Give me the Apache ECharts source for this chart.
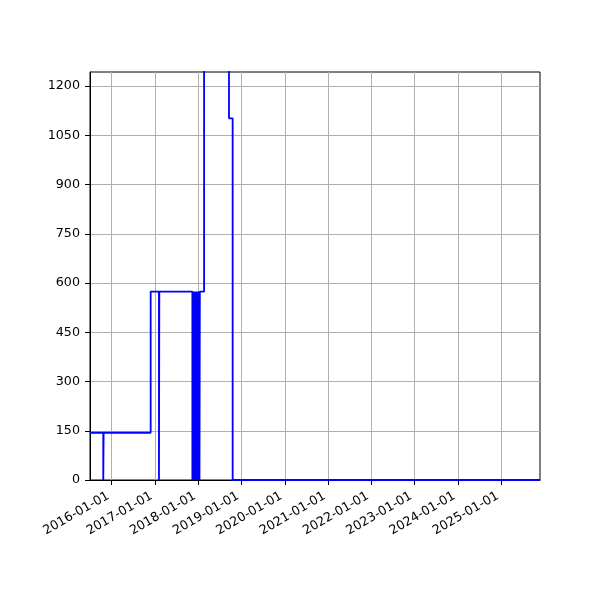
<!DOCTYPE html>
<html><head><meta charset="utf-8">
<script src="https://cdn.jsdelivr.net/npm/echarts@6/dist/echarts.min.js"></script>
<style>html,body{margin:0;padding:0;background:#fff}#c{width:600px;height:600px}</style>
</head><body><div id="c"></div>
<script>
const dates = [
  '2015-07-02','2015-10-22','2015-10-25','2016-11-25','2017-02-03','2017-02-06',
  '2017-11-12','2017-11-15','2017-11-18','2017-11-21','2017-11-24','2017-11-27',
  '2017-11-30','2017-12-03','2017-12-06','2017-12-09','2017-12-12','2017-12-15',
  '2017-12-18','2017-12-21','2017-12-24','2017-12-27','2017-12-30','2018-01-02',
  '2018-01-05','2018-01-08','2018-01-11','2018-01-14',
  '2018-02-19','2018-09-17','2018-10-18','2025-11-24'
];
const values = [
  144, 0, 144, 574, 0, 574,
  0, 574, 0, 574, 0, 574,
  0, 574, 0, 574, 0, 574,
  0, 574, 0, 574, 0, 574,
  0, 574, 0, 574,
  1400, 1102, 0, 0
];
const xTicks = ['2016-01-01','2017-01-01','2018-01-01','2019-01-01','2020-01-01',
  '2021-01-01','2022-01-01','2023-01-01','2024-01-01','2025-01-01'];
const yTicks = [0,150,300,450,600,750,900,1050,1200];
const xMin = '2015-07-02', xMax = '2025-11-24';
const yMax = 1243;

const ts = s => new Date(s + 'T00:00:00Z').getTime();
const pad = n => (n < 10 ? '0' : '') + n;
const fmt = v => { const d = new Date(v); return d.getUTCFullYear() + '-' + pad(d.getUTCMonth()+1) + '-' + pad(d.getUTCDate()); };

const chart = echarts.init(document.getElementById('c'));
const font = 'DejaVu Sans';
const fs = 12.7;
chart.setOption({
  animation: false,
  grid: {left: 90, right: 60, top: 72, bottom: 120, show: true, borderColor: '#000', borderWidth: 1, backgroundColor: 'transparent'},
  xAxis: {
    type: 'value', min: ts(xMin), max: ts(xMax),
    axisLine: {show: true, lineStyle: {color: '#000', width: 1}},
    axisTick: {show: true, length: 5, lineStyle: {color: '#000'}, customValues: xTicks.map(ts)},
    axisLabel: {rotate: 30, margin: 13, padding: [0, 4, 0, 0], color: '#000', fontFamily: font, fontSize: fs,
      customValues: xTicks.map(ts), formatter: v => fmt(v)},
    splitLine: {show: true, lineStyle: {color: '#b0b0b0', width: 1}}
  },
  yAxis: {
    type: 'value', min: 0, max: yMax,
    axisLine: {show: true, lineStyle: {color: '#000', width: 1}},
    axisTick: {show: true, length: 5, lineStyle: {color: '#000'}, customValues: yTicks},
    axisLabel: {margin: 10, color: '#000', fontFamily: font, fontSize: fs, customValues: yTicks,
      formatter: v => String(v)},
    splitLine: {show: true, lineStyle: {color: '#b0b0b0', width: 1}}
  },
  series: [{
    type: 'line', step: 'end', showSymbol: false, clip: true, z: 5,
    lineStyle: {color: '#0000ff', width: 1.8},
    data: dates.map((d, i) => [ts(d), values[i]])
  }]
});
</script></body></html>
